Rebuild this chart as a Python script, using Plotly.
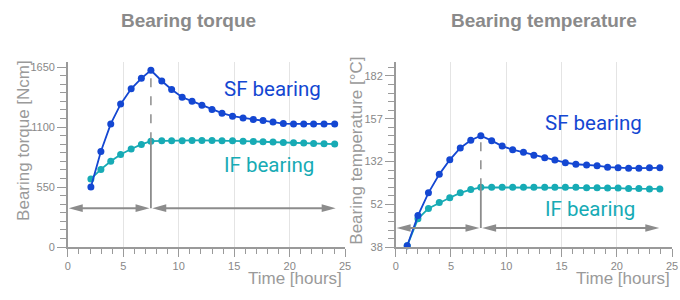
import plotly.graph_objects as go

# ---------------- data ----------------
torque_time = [2.08, 2.98, 3.87, 4.76, 5.71, 6.63, 7.49, 8.47, 9.36, 10.31, 11.2, 12.09, 13.0,
               13.9, 14.85, 15.8, 16.72, 17.6, 18.5, 19.43, 20.35, 21.27, 22.16, 23.1, 24.06]
torque_sf = [551, 876, 1129, 1310, 1450, 1546, 1620, 1522, 1444, 1373, 1337, 1299, 1260,
             1227, 1200, 1182, 1170, 1159, 1147, 1132, 1129, 1129, 1129, 1129, 1129]
torque_if = [625, 712, 786, 849, 899, 941, 971, 974, 974, 974, 977, 977, 977,
             974, 974, 971, 968, 965, 962, 959, 956, 953, 950, 947, 944]

temp_time = [1.04, 2.01, 2.96, 3.94, 4.89, 5.84, 6.79, 7.7, 8.68, 9.63, 10.58, 11.56, 12.5,
             13.48, 14.4, 15.35, 16.3, 17.27, 18.22, 19.17, 20.12, 21.07, 22.0, 22.96, 23.9]
# values on the (non-uniformly labelled) temperature axis scale
temp_sf = [82.8, 100.4, 113.7, 124.5, 133.0, 139.9, 144.4, 147.1, 144.2, 141.0, 138.9, 137.4, 135.7,
           134.2, 132.9, 131.3, 130.4, 130.0, 129.6, 128.7, 128.3, 128.1, 128.1, 128.3, 128.3]
temp_if = [82.8, 98.5, 104.6, 108.0, 110.8, 113.7, 115.6, 116.9, 116.9, 116.9, 116.9, 116.9, 116.9,
           116.9, 116.9, 116.9, 116.9, 116.7, 116.7, 116.5, 116.5, 116.2, 116.2, 116.0, 116.0]

torque_ticks = [0, 550, 1100, 1650]
torque_ticktext = ["0", "550", "1100", "1650"]
temp_tickvals = [82, 107, 132, 157, 182]
temp_ticktext = ["38", "52", "132", "157", "182"]
time_ticks = [0, 5, 10, 15, 20, 25]

torque_arrow_level = 357
temp_arrow_level = 93.2

# ---------------- style ----------------
SF_COLOR = "#1447d2"
IF_COLOR = "#17abb5"
GRAY = "#8c8c8c"
AXIS = "#9a9a9a"
FONT = "Liberation Sans"

fig = go.Figure()

def add_series(x, y, color, xa, ya):
    fig.add_trace(go.Scatter(x=x, y=y, mode="lines+markers", xaxis=xa, yaxis=ya,
                             line=dict(color=color, width=1.8),
                             marker=dict(color=color, size=7),
                             cliponaxis=False, showlegend=False, hoverinfo="skip"))

add_series(torque_time, torque_if, IF_COLOR, "x", "y")
add_series(torque_time, torque_sf, SF_COLOR, "x", "y")
add_series(temp_time, temp_if, IF_COLOR, "x2", "y2")
add_series(temp_time, temp_sf, SF_COLOR, "x2", "y2")

xcommon = dict(range=[0, 25], tickmode="array", tickvals=time_ticks, ticks="outside", ticklen=8,
               tickcolor=AXIS, tickwidth=1.2, showline=True, linecolor=AXIS, linewidth=1.5,
               showgrid=True, gridcolor="#e4e4e4", gridwidth=1, zeroline=False,
               tickfont=dict(family=FONT, size=11, color="#888"),
               minor=dict(tickmode="linear", tick0=0, dtick=1, ticklen=5, tickcolor=AXIS,
                          tickwidth=1.2, showgrid=False))
ycommon = dict(ticks="outside", ticklen=9, tickcolor=AXIS, tickwidth=1.2, showline=True,
               linecolor=AXIS, linewidth=1.5, showgrid=False, zeroline=False,
               tickfont=dict(family=FONT, size=11, color="#888"))

fig.update_layout(
    width=680, height=300, margin=dict(l=0, r=0, t=0, b=0),
    paper_bgcolor="white", plot_bgcolor="white",
    xaxis=dict(domain=[65.7 / 680, 346.7 / 680], anchor="y", **xcommon),
    yaxis=dict(domain=[48 / 300, 238 / 300], anchor="x", range=[0, 1700], tickmode="array",
               tickvals=torque_ticks, ticktext=torque_ticktext,
               minor=dict(tickmode="linear", tick0=0, dtick=550 / 7, ticklen=6, tickcolor=AXIS,
                          tickwidth=1.2, showgrid=False), **ycommon),
    xaxis2=dict(domain=[398 / 680, 678 / 680], anchor="y2", **xcommon),
    yaxis2=dict(domain=[48 / 300, 238 / 300], anchor="x2", range=[82, 190.4], tickmode="array",
                tickvals=temp_tickvals, ticktext=temp_ticktext,
                minor=dict(tickmode="linear", tick0=82, dtick=5, ticklen=6, tickcolor=AXIS,
                           tickwidth=1.2, showgrid=False), **ycommon),
)

shapes = []
annotations = []

def phase_markers(times, sf, i_f, level, xr, yr, x_end):
    pk = sf.index(max(sf))
    tp = times[pk]
    # vertical boundary line: solid up to IF, dashed to SF peak
    shapes.append(dict(type="line", xref=xr, yref=yr, x0=tp, x1=tp, y0=level, y1=i_f[pk],
                       line=dict(color=GRAY, width=1.8)))
    shapes.append(dict(type="line", xref=xr, yref=yr, x0=tp, x1=tp, y0=i_f[pk], y1=sf[pk],
                       line=dict(color=GRAY, width=1.5, dash="dash")))
    gap = 0.12
    for a, b in [(0.08, tp - gap), (tp + gap, x_end)]:
        shapes.append(dict(type="line", xref=xr, yref=yr, x0=a + 0.5, x1=b - 0.5, y0=level, y1=level,
                           line=dict(color=GRAY, width=2)))
        shapes.append(dict(type="path", xref=xr, yref=yr, xsizemode="pixel", ysizemode="pixel",
                           xanchor=a, yanchor=level, path="M0,0 L14,3.8 L14,-3.8 Z",
                           fillcolor=GRAY, line=dict(width=0)))
        shapes.append(dict(type="path", xref=xr, yref=yr, xsizemode="pixel", ysizemode="pixel",
                           xanchor=b, yanchor=level, path="M0,0 L-14,3.8 L-14,-3.8 Z",
                           fillcolor=GRAY, line=dict(width=0)))

phase_markers(torque_time, torque_sf, torque_if, torque_arrow_level, "x", "y", 24.15)
phase_markers(temp_time, temp_sf, temp_if, temp_arrow_level, "x2", "y2", 23.85)

label_font_sf = dict(family="Roboto", size=20.5, color=SF_COLOR)
label_font_if = dict(family="Roboto", size=20.5, color=IF_COLOR)
annotations += [
    dict(text="SF bearing", xref="x", yref="y", x=13.9, y=1450, xanchor="left", yanchor="middle",
         showarrow=False, font=label_font_sf),
    dict(text="IF bearing", xref="x", yref="y", x=13.9, y=752, xanchor="left", yanchor="middle",
         showarrow=False, font=label_font_if),
    dict(text="SF bearing", xref="x2", yref="y2", x=13.3, y=154.4, xanchor="left", yanchor="middle",
         showarrow=False, font=label_font_sf),
    dict(text="IF bearing", xref="x2", yref="y2", x=13.3, y=104.2, xanchor="left", yanchor="middle",
         showarrow=False, font=label_font_if),
    # titles
    dict(text="<b>Bearing torque</b>", xref="paper", yref="paper", x=188 / 680, y=(300 - 20) / 300,
         xanchor="center", yanchor="middle", showarrow=False,
         font=dict(family=FONT, size=19, color="#8a8a8a")),
    dict(text="<b>Bearing temperature</b>", xref="paper", yref="paper", x=548 / 680, y=(300 - 20) / 300,
         xanchor="center", yanchor="middle", showarrow=False,
         font=dict(family=FONT, size=19, color="#8a8a8a")),
    # axis titles
    dict(text="Bearing torque [Ncm]", xref="paper", yref="paper", x=20 / 680, y=(300 - 142.5) / 300,
         xanchor="center", yanchor="middle", textangle=-90, showarrow=False,
         font=dict(family=FONT, size=17, color="#9a9a9a")),
    dict(text="Bearing temperature [°C]", xref="paper", yref="paper", x=358 / 680, y=(300 - 153) / 300,
         xanchor="center", yanchor="middle", textangle=-90, showarrow=False,
         font=dict(family=FONT, size=17, color="#9a9a9a")),
    dict(text="Time [hours]", xref="paper", yref="paper", x=346 / 680, y=(300 - 284) / 300,
         xanchor="right", yanchor="middle", showarrow=False,
         font=dict(family=FONT, size=17, color="#9a9a9a")),
    dict(text="Time [hours]", xref="paper", yref="paper", x=678 / 680, y=(300 - 284) / 300,
         xanchor="right", yanchor="middle", showarrow=False,
         font=dict(family=FONT, size=17, color="#9a9a9a")),
]

fig.update_layout(shapes=shapes, annotations=annotations)
fig.write_html("out.html", config={"displayModeBar": False},
               post_script="document.body.style.margin='0';document.body.style.overflow='hidden';")
